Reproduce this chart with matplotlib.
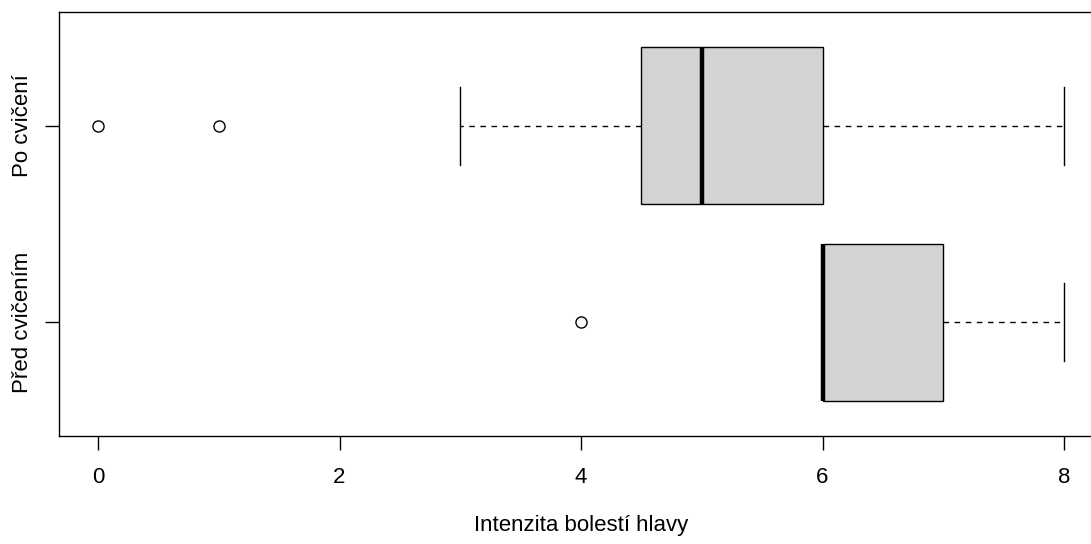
import matplotlib
matplotlib.use("Agg")
import matplotlib.pyplot as plt

# data (R-style horizontal boxplot)
groups   = ["Před cvičením", "Po cvičení"]
whislo   = [6, 3]
q1       = [6, 4.5]
med      = [6, 5]
q3       = [7, 6]
whishi   = [8, 8]
fliers   = [[4], [0, 1]]
xticks   = [0, 2, 4, 6, 8]
xlabel   = "Intenzita bolestí hlavy"

plt.rcParams["font.family"] = ["Liberation Sans", "DejaVu Sans"]
FS = 16

fig = plt.figure(figsize=(10.91, 5.44), dpi=100)
W, H = 1091, 544
# axes box in pixels: x 0->98 px, 8->1064 px ; y 12..436
ppu = (1064 - 98) / 8
x0 = 98 - 0.32 * ppu
ax = fig.add_axes([x0 / W, (H - 436) / H, 8.64 * ppu / W, (436 - 12) / H])

stats = []
for i in range(len(groups)):
    stats.append(dict(whislo=whislo[i], q1=q1[i], med=med[i], q3=q3[i],
                      whishi=whishi[i], fliers=fliers[i], label=groups[i]))

ax.bxp(stats, positions=[1, 2], widths=0.8, capwidths=0.4,
       orientation="horizontal", patch_artist=True, showfliers=True,
       boxprops=dict(facecolor="#D3D3D3", edgecolor="black", linewidth=1),
       medianprops=dict(color="black", linewidth=3.2, solid_capstyle="butt"),
       whiskerprops=dict(color="black", linewidth=1, linestyle=(0, (4, 4))),
       capprops=dict(color="black", linewidth=1),
       flierprops=dict(marker="o", markerfacecolor="none", markeredgecolor="black",
                       markersize=8, markeredgewidth=1))

ax.set_xlim(-0.32, 8.32)
ax.set_ylim(0.42, 2.58)
ax.set_xticks(xticks)
ax.set_xticklabels([str(t) for t in xticks])
ax.set_yticks([1, 2])
ax.set_yticklabels(groups, rotation=90, va="center")
ax.tick_params(axis="both", length=10, width=1, labelsize=FS, direction="out")
ax.tick_params(axis="x", pad=12)
ax.tick_params(axis="y", pad=9)
ax.set_xlabel(xlabel, fontsize=FS, labelpad=20)
for s in ax.spines.values():
    s.set_linewidth(1)

fig.savefig("out.png", dpi=100)
